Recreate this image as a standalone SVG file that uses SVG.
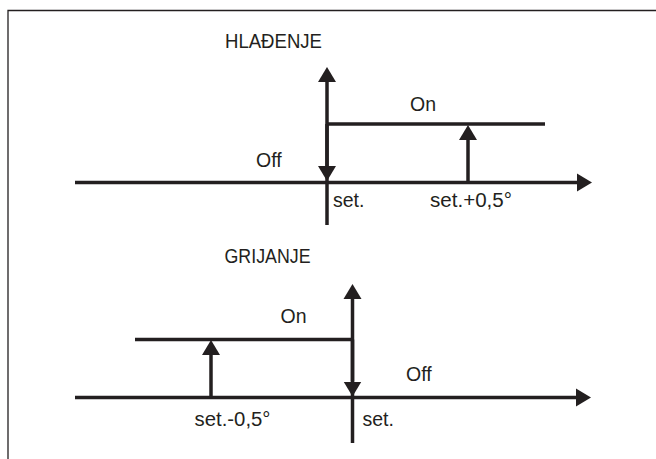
<svg xmlns="http://www.w3.org/2000/svg" width="656" height="459" viewBox="0 0 656 459">
<style>
.ln{stroke:#231f20;stroke-width:3.5;fill:none}
.ar{marker-end:url(#ah)}
.fr{stroke:#231f20;stroke-width:1.3;fill:none}
text{font-family:"Liberation Sans",Arial,sans-serif;font-size:19.5px;fill:#231f20}
</style>
<defs>
<marker id="ah" markerUnits="userSpaceOnUse" markerWidth="16" markerHeight="20" viewBox="0 -10 16 20" refX="0" refY="0" orient="auto">
<path d="M0,-9 L15,0 L0,9 z" fill="#231f20"/>
</marker>
</defs>
<rect width="656" height="459" fill="#ffffff"/>
<path class="fr" d="M8,459 V10.5 H656"/>
<g id="connectors">
<path class="ln ar" d="M75,182.5 H577"/>
<path class="ln ar" d="M327,225 V82"/>
<path class="ln ar" d="M327,124 V166"/>
<path class="ln" d="M327,124 H545"/>
<path class="ln ar" d="M468,182.5 V140"/>
<path class="ln ar" d="M75,397.5 H576"/>
<path class="ln ar" d="M352.5,443 V299"/>
<path class="ln ar" d="M352.5,339.5 V381.5"/>
<path class="ln" d="M135,339.5 H352.5"/>
<path class="ln ar" d="M211,397.5 V355"/>
</g>
<g id="cooling">
<text x="225" y="48" textLength="97" lengthAdjust="spacingAndGlyphs">HLAĐENJE</text>
<text x="410" y="110.5">On</text>
<text x="256" y="166.5">Off</text>
<text x="333" y="206.5">set.</text>
<text x="430" y="206.5" textLength="82" lengthAdjust="spacingAndGlyphs">set.+0,5°</text>
</g>
<g id="heating">
<text x="224.5" y="262.5" textLength="86" lengthAdjust="spacingAndGlyphs">GRIJANJE</text>
<text x="280.5" y="322.5">On</text>
<text x="406" y="380.5">Off</text>
<text x="194.5" y="426" textLength="76" lengthAdjust="spacingAndGlyphs">set.-0,5°</text>
<text x="362.5" y="426">set.</text>
</g>
</svg>
